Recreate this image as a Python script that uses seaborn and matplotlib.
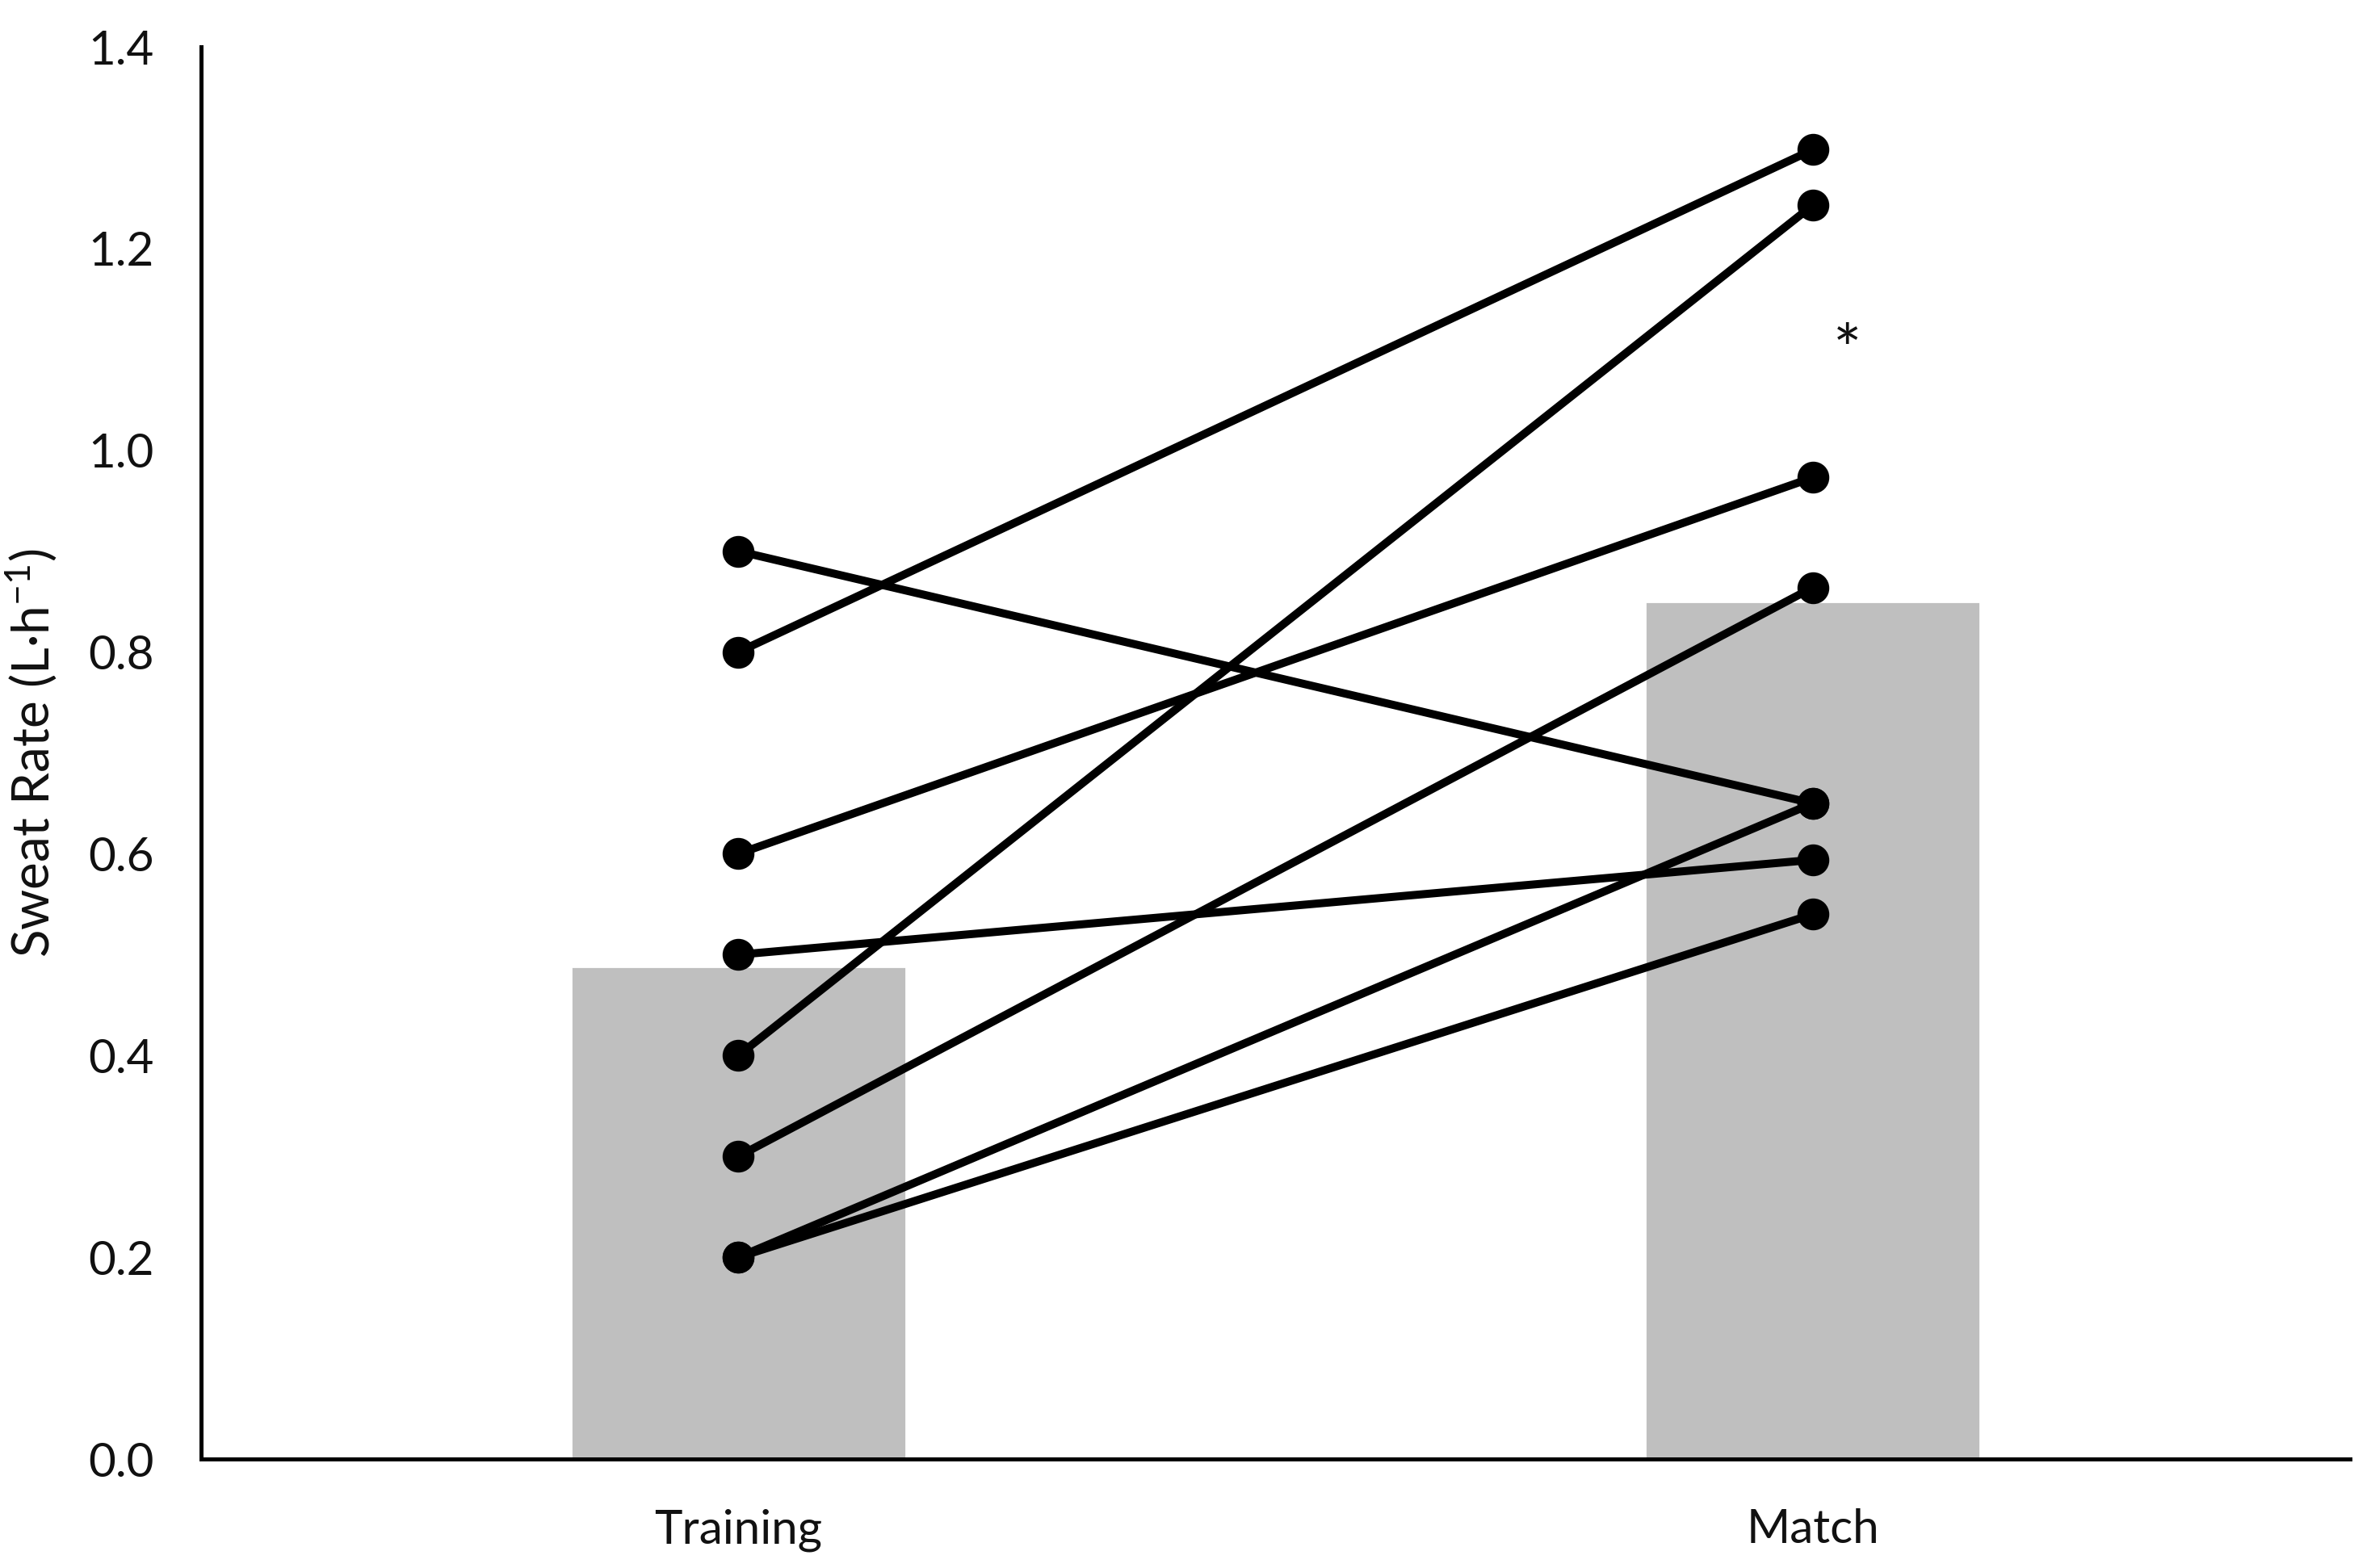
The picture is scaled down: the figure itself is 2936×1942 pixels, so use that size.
import matplotlib
matplotlib.use("Agg")
import matplotlib.pyplot as plt
import seaborn as sns
import pandas as pd

categories = ["Training", "Match"]
bar_means = [0.488, 0.850]
subject_ids = ["S1", "S2", "S3", "S4", "S5", "S6", "S7", "S8"]
training_rates = [0.80, 0.40, 0.60, 0.90, 0.30, 0.50, 0.20, 0.20]
match_rates = [1.298, 1.243, 0.973, 0.650, 0.864, 0.594, 0.650, 0.540]
y_ticks = [0.0, 0.2, 0.4, 0.6, 0.8, 1.0, 1.2, 1.4]

sns.set_theme(style="white")
plt.rcParams["font.family"] = ["Lato", "DejaVu Sans"]
plt.rcParams["mathtext.fontset"] = "custom"
plt.rcParams["mathtext.rm"] = "Lato"
plt.rcParams["mathtext.it"] = "Lato"
plt.rcParams["mathtext.default"] = "regular"

fig = plt.figure(figsize=(2936 / 200, 1942 / 200), dpi=200)
ax = fig.add_axes([249 / 2936, 1 - 1807 / 1942, (2910 - 249) / 2936, (1807 - 58) / 1942])

bars_df = pd.DataFrame({"condition": categories, "rate": bar_means})
sns.barplot(data=bars_df, x="condition", y="rate", order=categories,
            color="#BFBFBF", saturation=1, width=0.312, ax=ax, zorder=1)

long_df = pd.DataFrame({
    "subject": subject_ids * 2,
    "condition": ["Training"] * len(subject_ids) + ["Match"] * len(subject_ids),
    "rate": training_rates + match_rates,
})
sns.pointplot(data=long_df, x="condition", y="rate", hue="subject", order=categories,
              palette=["black"] * len(subject_ids), markers="o", linestyles="-",
              dodge=False, errorbar=None, legend=False, ax=ax,
              markersize=11.5, linewidth=3.6)

ax.text(1.032, 1.095, "*", ha="center", va="center", fontsize=30, color="#111111")

ax.set_xlim(-0.5, 1.5)
ax.set_ylim(0, 1.4)
ax.set_yticks(y_ticks)
ax.set_yticklabels([f"{v:.1f}" for v in y_ticks])
ax.set_xlabel("")
ax.set_ylabel(r"Sweat Rate (L·h$^{-1}$)", fontsize=23, color="#111111")
ax.yaxis.set_label_coords(-0.066, 0.5)
ax.tick_params(axis="y", length=0, pad=21, labelsize=21, colors="#111111")
ax.tick_params(axis="x", length=0, pad=22, labelsize=21, colors="#111111")

for side in ["top", "right"]:
    ax.spines[side].set_visible(False)
for side in ["left", "bottom"]:
    ax.spines[side].set_color("black")
    ax.spines[side].set_linewidth(1.8)
    ax.spines[side].set_zorder(5)

fig.savefig("out.png", dpi=200, facecolor="white")
